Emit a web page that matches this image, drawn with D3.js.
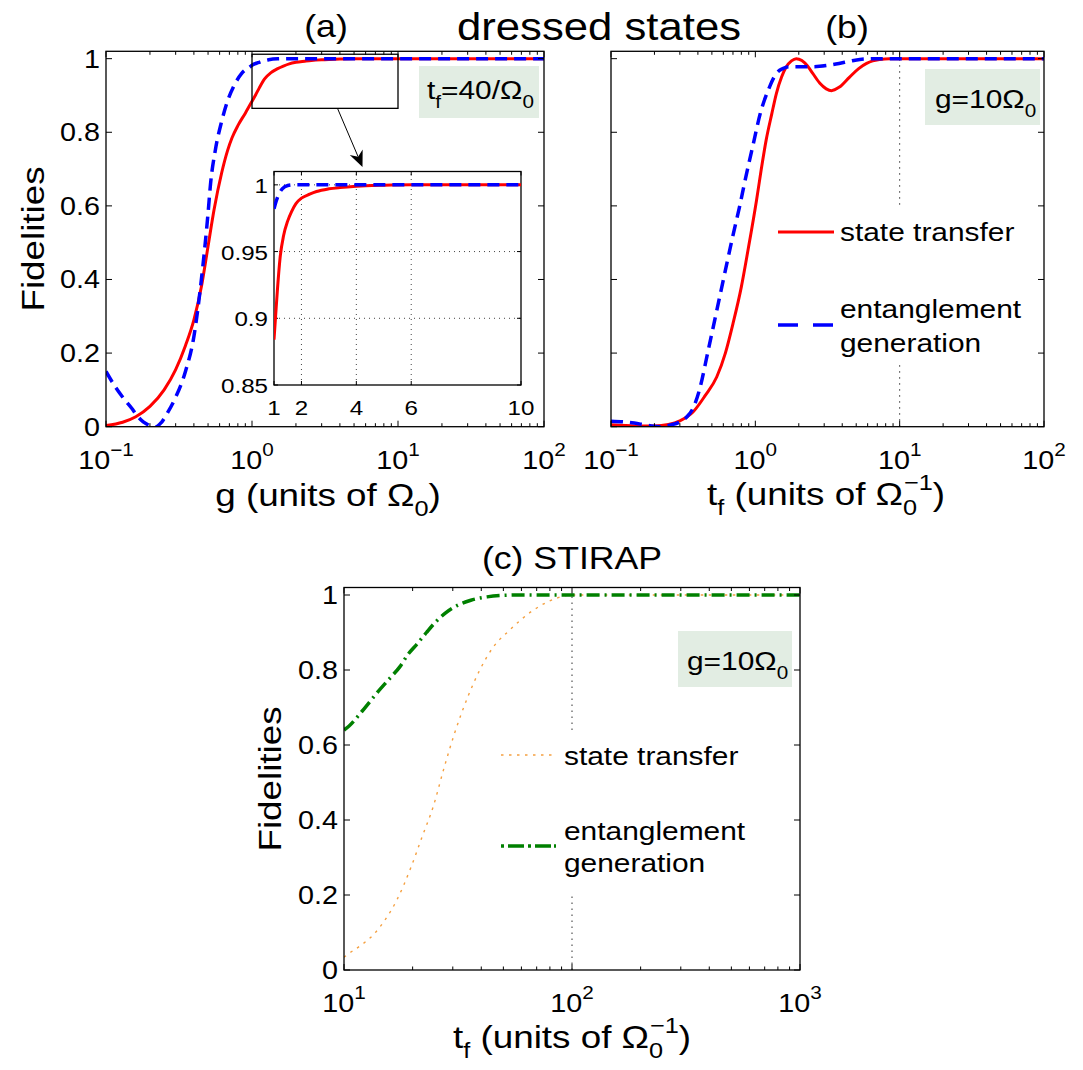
<!DOCTYPE html>
<html><head><meta charset="utf-8">
<script src="https://cdn.jsdelivr.net/npm/d3@7"></script>
<style>body{margin:0;background:#fff}svg{display:block;font-family:"Liberation Sans",Arial,Helvetica,sans-serif}</style>
</head><body>
<svg id="c" width="1083" height="1070"></svg>
<script>
// ---------- data ----------
// panel (a): fidelity vs g (t_f = 40/Omega0)
const aStateG = [0.1,0.13,0.16,0.2,0.25,0.3,0.35,0.4,0.45,0.5,0.55,0.62,0.68,0.73,0.8,0.9,1,1.06,1.12,1.22,1.35,1.5,1.64,1.8,2,2.3,2.55,3,3.4,4,5,6,10,30,100];
const aStateF = [0.003,0.012,0.027,0.055,0.1,0.155,0.22,0.29,0.38,0.49,0.59,0.69,0.75,0.785,0.818,0.852,0.884,0.902,0.92,0.945,0.962,0.973,0.98,0.986,0.99,0.993,0.995,0.997,0.998,0.999,0.9997,1,1,1,1];
const aEntG = [0.1,0.115,0.135,0.15,0.163,0.18,0.2,0.22,0.24,0.266,0.3,0.35,0.4,0.45,0.5,0.52,0.56,0.62,0.68,0.75,0.85,0.97,1,1.1,1.2,1.3,1.5,1.7,2,10,100];
const aEntF = [0.15,0.11,0.072,0.05,0.03,0.013,0.003,0.0,0.012,0.04,0.08,0.15,0.245,0.4,0.58,0.66,0.75,0.83,0.885,0.925,0.96,0.978,0.982,0.989,0.994,0.997,0.9995,1,1,1,1];
// panel (b): fidelity vs t_f (g = 10 Omega0)
const bStateT = [0.1,0.15,0.2,0.25,0.3,0.37,0.45,0.54,0.62,0.7,0.8,0.89,1.02,1.1,1.19,1.3,1.4,1.52,1.64,1.78,1.92,2.1,2.3,2.5,2.8,3.1,3.37,3.8,4.5,5.2,5.9,6.5,7.3,8.5,100];
const bStateF = [0.005,0.002,0.002,0.006,0.016,0.04,0.085,0.135,0.2,0.28,0.38,0.48,0.616,0.7,0.78,0.85,0.906,0.95,0.978,0.994,1.0,0.995,0.98,0.96,0.933,0.918,0.913,0.922,0.95,0.973,0.987,0.994,0.998,1,1];
const bEntT = [0.1,0.13,0.16,0.19,0.22,0.26,0.3,0.336,0.37,0.41,0.47,0.54,0.64,0.7,0.78,0.85,0.97,1.08,1.23,1.4,1.55,1.73,2.5,3.2,3.8,4.5,5.3,6.8,100];
const bEntF = [0.015,0.012,0.007,0.002,0.0,0.005,0.013,0.027,0.05,0.1,0.205,0.315,0.45,0.52,0.6,0.67,0.77,0.85,0.915,0.96,0.973,0.978,0.978,0.982,0.987,0.993,0.998,1,1];
// panel (c): STIRAP, fidelity vs t_f (g = 10 Omega0)
const cStateT = [10,10.5,12,13.5,15,17,19.7,22,24.6,27.5,30.5,35,39.4,45,53,60,66,72,79,87,95,100,1000];
const cStateF = [0.034,0.044,0.068,0.095,0.13,0.185,0.275,0.355,0.435,0.54,0.63,0.73,0.8,0.86,0.905,0.935,0.955,0.97,0.983,0.993,0.999,1,1];
const cEntT = [10,10.5,12,14,16,17.6,19,21.1,23,25.3,28,31.6,36,42.4,50,60,1000];
const cEntF = [0.64,0.65,0.69,0.74,0.78,0.809,0.84,0.872,0.9,0.929,0.953,0.973,0.986,0.995,0.999,1,1];
// ticks and labels
const yTicks = [0,0.2,0.4,0.6,0.8,1];
const yTickLabels = ["0","0.2","0.4","0.6","0.8","1"];
const abDecades = [-1,0,1,2];
const cDecades = [1,2,3];
const insetXTicks = [1,2,4,6,10];
const insetYTicks = [0.85,0.9,0.95,1];
const insetYLabels = ["0.85","0.9","0.95","1"];
const legendLabels = ["state transfer","entanglement","generation"];

// ---------- helpers ----------
const svg = d3.select("#c");
const SX = 1.15;
function label(parent, x, y, parts, size, anchor, rot) {
  const t = parent.append("text")
    .attr("transform", `translate(${x},${y}) rotate(${rot||0}) scale(${SX},1)`)
    .attr("text-anchor", anchor || "middle").attr("font-size", size).attr("fill", "#000");
  parts.forEach(p => {
    const s = t.append("tspan").text(p.t);
    if (p.fs) s.attr("font-size", p.fs);
    if (p.dy) s.attr("dy", p.dy);
    if (p.dx) s.attr("dx", p.dx);
  });
  return t;
}
const sup = e => [{t:"10"},{t: e < 0 ? "\u2212" + (-e) : String(e), fs:18, dy:-13}];

function drawAxes(x, y, decades, yLabels) {
  const [x0, x1] = x.range(), [y0, y1] = y.range();
  const g = svg.append("g");
  const d = x.domain();
  const ticks = [];
  for (let e = Math.round(Math.log10(d[0])); e < Math.round(Math.log10(d[1])); e++)
    for (let m = 1; m < 10; m++) ticks.push({v: m * Math.pow(10, e), major: m === 1});
  ticks.push({v: d[1], major: true});
  ticks.forEach(t => {
    const px = x(t.v), L = t.major ? 6 : 3.5;
    g.append("line").attr("x1", px).attr("x2", px).attr("y1", y0).attr("y2", y0 - L).attr("stroke", "#000");
    g.append("line").attr("x1", px).attr("x2", px).attr("y1", y1).attr("y2", y1 + L).attr("stroke", "#000");
  });
  yTicks.forEach((v, i) => {
    const py = y(v);
    g.append("line").attr("x1", x0).attr("x2", x0 + 6).attr("y1", py).attr("y2", py).attr("stroke", "#000");
    g.append("line").attr("x1", x1).attr("x2", x1 - 6).attr("y1", py).attr("y2", py).attr("stroke", "#000");
    if (yLabels) label(g, x0 - 6, py + 9, [{t: yLabels[i]}], 25, "end");
  });
  decades.forEach(e => label(g, x(Math.pow(10, e)), y0 + 42, sup(e), 25, "middle"));
  g.append("rect").attr("x", x0).attr("y", y1).attr("width", x1 - x0).attr("height", y0 - y1)
    .attr("fill", "none").attr("stroke", "#000").attr("stroke-width", 1.3);
}
function clip(id, x, y) {
  const [x0, x1] = x.range(), [y0, y1] = y.range();
  svg.append("clipPath").attr("id", id).append("rect")
    .attr("x", x0).attr("y", y1 - 3).attr("width", x1 - x0).attr("height", y0 - y1 + 3);
}
function curve(xs, ys, x, y, style, clipId) {
  const pts = xs.map((v, i) => [x(v), y(ys[i])]);
  const p = svg.append("path")
    .attr("d", d3.line().curve(d3.curveMonotoneX)(pts))
    .attr("fill", "none").attr("stroke", style.c).attr("stroke-width", style.w)
    .attr("clip-path", `url(#${clipId})`);
  if (style.dash) p.attr("stroke-dasharray", style.dash);
  return p;
}
const RED = {c:"#ff0000", w:3};
const BLUE = {c:"#0000ff", w:3.5, dash:"12,7"};
const GREEN = {c:"#008000", w:3.5, dash:"13,5,2,5"};
const ORANGE = {c:"#f5a040", w:1.4, dash:"2.5,5.5"};
const BOXFILL = "#e2ede3";

// ---------- panel (a) ----------
const xA = d3.scaleLog().domain([0.1, 100]).range([106, 544]);
const yA = d3.scaleLinear().domain([0, 1.02]).range([426.7, 51.3]);
clip("ca", xA, yA);
curve(aStateG, aStateF, xA, yA, RED, "ca");
curve(aEntG, aEntF, xA, yA, BLUE, "ca");
drawAxes(xA, yA, abDecades, yTickLabels);
svg.append("rect").attr("x", xA(1)).attr("y", yA(1.012)).attr("width", xA(10) - xA(1))
  .attr("height", yA(0.865) - yA(1.012)).attr("fill", "none").attr("stroke", "#000").attr("stroke-width", 1.3);
svg.append("rect").attr("x", 419).attr("y", 66).attr("width", 120).attr("height", 52).attr("fill", BOXFILL);
label(svg, 427, 99, [{t:"t"},{t:"f", fs:18, dy:9},{t:"=40/\u03a9", dy:-9},{t:"0", fs:18, dy:9}], 26, "start");

// inset
const xI = d3.scaleLinear().domain([1, 10]).range([274, 521]);
const yI = d3.scaleLinear().domain([0.85, 1.01]).range([385, 171.5]);
svg.append("rect").attr("x", 274).attr("y", 171.5).attr("width", 247).attr("height", 213.5).attr("fill", "#fff");
const gi = svg.append("g");
insetXTicks.slice(1, -1).forEach(v => gi.append("line").attr("x1", xI(v)).attr("x2", xI(v)).attr("y1", yI(0.85)).attr("y2", yI(1.01))
  .attr("stroke", "#444").attr("stroke-dasharray", "1,4"));
insetYTicks.slice(1).forEach(v => gi.append("line").attr("x1", xI(1)).attr("x2", xI(10)).attr("y1", yI(v)).attr("y2", yI(v))
  .attr("stroke", "#444").attr("stroke-dasharray", "1,4"));
svg.append("clipPath").attr("id", "ci").append("rect").attr("x", 274).attr("y", 171.5).attr("width", 247).attr("height", 213.5);
const iS = aStateG.map((v, i) => [v, aStateF[i]]).filter(d => d[0] >= 1 && d[0] <= 10);
const iE = aEntG.map((v, i) => [v, aEntF[i]]).filter(d => d[0] >= 1 && d[0] <= 10);
curve(iS.map(d => d[0]), iS.map(d => d[1]), xI, yI, RED, "ci");
curve(iE.map(d => d[0]), iE.map(d => d[1]), xI, yI, BLUE, "ci");
insetXTicks.forEach(v => {
  gi.append("line").attr("x1", xI(v)).attr("x2", xI(v)).attr("y1", 385).attr("y2", 381).attr("stroke", "#000");
  gi.append("line").attr("x1", xI(v)).attr("x2", xI(v)).attr("y1", 171.5).attr("y2", 175.5).attr("stroke", "#000");
  label(gi, xI(v), 415, [{t:String(v)}], 21, "middle");
});
insetYTicks.forEach((v, i) => {
  gi.append("line").attr("x1", 274).attr("x2", 278).attr("y1", yI(v)).attr("y2", yI(v)).attr("stroke", "#000");
  gi.append("line").attr("x1", 521).attr("x2", 517).attr("y1", yI(v)).attr("y2", yI(v)).attr("stroke", "#000");
  label(gi, 268, yI(v) + 8, [{t: insetYLabels[i]}], 21, "end");
});
gi.append("rect").attr("x", 274).attr("y", 171.5).attr("width", 247).attr("height", 213.5)
  .attr("fill", "none").attr("stroke", "#000").attr("stroke-width", 1.3);
(function () {
  const sx = 337.5, sy = yA(0.865), tx = 362.5, ty = 167;
  const ang = Math.atan2(ty - sy, tx - sx), L = 16, W = 7;
  const bx = tx - L * Math.cos(ang), by = ty - L * Math.sin(ang);
  const nx = tx - 0.7 * L * Math.cos(ang), ny = ty - 0.7 * L * Math.sin(ang);
  const px = -Math.sin(ang), py = Math.cos(ang);
  svg.append("line").attr("x1", sx).attr("y1", sy).attr("x2", nx).attr("y2", ny).attr("stroke", "#000").attr("stroke-width", 1);
  svg.append("path").attr("d", `M${tx},${ty}L${bx + W * px},${by + W * py}L${nx},${ny}L${bx - W * px},${by - W * py}Z`).attr("fill", "#000");
})();
label(svg, 326, 37, [{t:"(a)"}], 31, "middle");
label(svg, 599, 40, [{t:"dressed states"}], 38, "middle");
label(svg, 44, 239, [{t:"Fidelities"}], 32, "middle", -90);
label(svg, 328, 506, [{t:"g (units of \u03a9"},{t:"0", fs:22, dy:10},{t:")", dy:-10}], 32, "middle");

// ---------- panel (b) ----------
const xB = d3.scaleLog().domain([0.1, 100]).range([611, 1044]);
const yB = d3.scaleLinear().domain([0, 1.02]).range([426.7, 51.3]);
clip("cb", xB, yB);
svg.append("line").attr("x1", xB(10)).attr("x2", xB(10)).attr("y1", yB(0)).attr("y2", yB(1.02))
  .attr("stroke", "#333").attr("stroke-dasharray", "1.5,4.5");
curve(bStateT, bStateF, xB, yB, RED, "cb");
curve(bEntT, bEntF, xB, yB, BLUE, "cb");
drawAxes(xB, yB, abDecades, null);
svg.append("rect").attr("x", 925).attr("y", 69).attr("width", 115).attr("height", 56).attr("fill", BOXFILL);
label(svg, 935, 108, [{t:"g=10\u03a9"},{t:"0", fs:18, dy:9}], 26, "start");
svg.append("rect").attr("x", 768).attr("y", 205).attr("width", 268).attr("height", 157).attr("fill", "#fff");
svg.append("line").attr("x1", 778).attr("x2", 834).attr("y1", 232).attr("y2", 232).attr("stroke", RED.c).attr("stroke-width", RED.w);
label(svg, 840, 241, [{t: legendLabels[0]}], 26, "start");
svg.append("line").attr("x1", 778).attr("x2", 835).attr("y1", 325).attr("y2", 325).attr("stroke", BLUE.c).attr("stroke-width", BLUE.w).attr("stroke-dasharray", "20,15");
label(svg, 840, 318, [{t: legendLabels[1]}], 26, "start");
label(svg, 840, 352, [{t: legendLabels[2]}], 26, "start");
label(svg, 847, 38, [{t:"(b)"}], 31, "middle");
label(svg, 826, 505, [{t:"t"},{t:"f", fs:22, dy:10},{t:" (units of \u03a9", dy:-10},{t:"0", fs:22, dy:10},{t:"\u22121", fs:22, dx:-11.5, dy:-25},{t:")", dy:15}], 32, "middle");

// ---------- panel (c) ----------
const xC = d3.scaleLog().domain([10, 1000]).range([344, 800]);
const yC = d3.scaleLinear().domain([0, 1.02]).range([970, 587.5]);
clip("cc", xC, yC);
svg.append("line").attr("x1", xC(100)).attr("x2", xC(100)).attr("y1", yC(0)).attr("y2", yC(1.0))
  .attr("stroke", "#333").attr("stroke-dasharray", "1.5,4.5");
curve(cStateT, cStateF, xC, yC, ORANGE, "cc");
curve(cEntT, cEntF, xC, yC, GREEN, "cc");
drawAxes(xC, yC, cDecades, yTickLabels);
svg.append("rect").attr("x", 678).attr("y", 631).attr("width", 114).attr("height", 56).attr("fill", BOXFILL);
label(svg, 687, 670, [{t:"g=10\u03a9"},{t:"0", fs:18, dy:9}], 26, "start");
svg.append("rect").attr("x", 492).attr("y", 732).attr("width", 270).attr("height", 160).attr("fill", "#fff");
svg.append("line").attr("x1", 501).attr("x2", 553).attr("y1", 755).attr("y2", 755).attr("stroke", ORANGE.c).attr("stroke-width", ORANGE.w).attr("stroke-dasharray", ORANGE.dash);
label(svg, 564, 765, [{t: legendLabels[0]}], 26, "start");
svg.append("line").attr("x1", 501).attr("x2", 556).attr("y1", 846).attr("y2", 846).attr("stroke", GREEN.c).attr("stroke-width", GREEN.w).attr("stroke-dasharray", "3,4,16,4,3,4,16");
label(svg, 564, 840, [{t: legendLabels[1]}], 26, "start");
label(svg, 564, 872, [{t: legendLabels[2]}], 26, "start");
label(svg, 572, 569, [{t:"(c)  STIRAP"}], 31, "middle");
label(svg, 281, 779, [{t:"Fidelities"}], 32, "middle", -90);
label(svg, 572, 1048, [{t:"t"},{t:"f", fs:22, dy:10},{t:" (units of \u03a9", dy:-10},{t:"0", fs:22, dy:10},{t:"\u22121", fs:22, dx:-11.5, dy:-25},{t:")", dy:15}], 32, "middle");
</script>
</body></html>
